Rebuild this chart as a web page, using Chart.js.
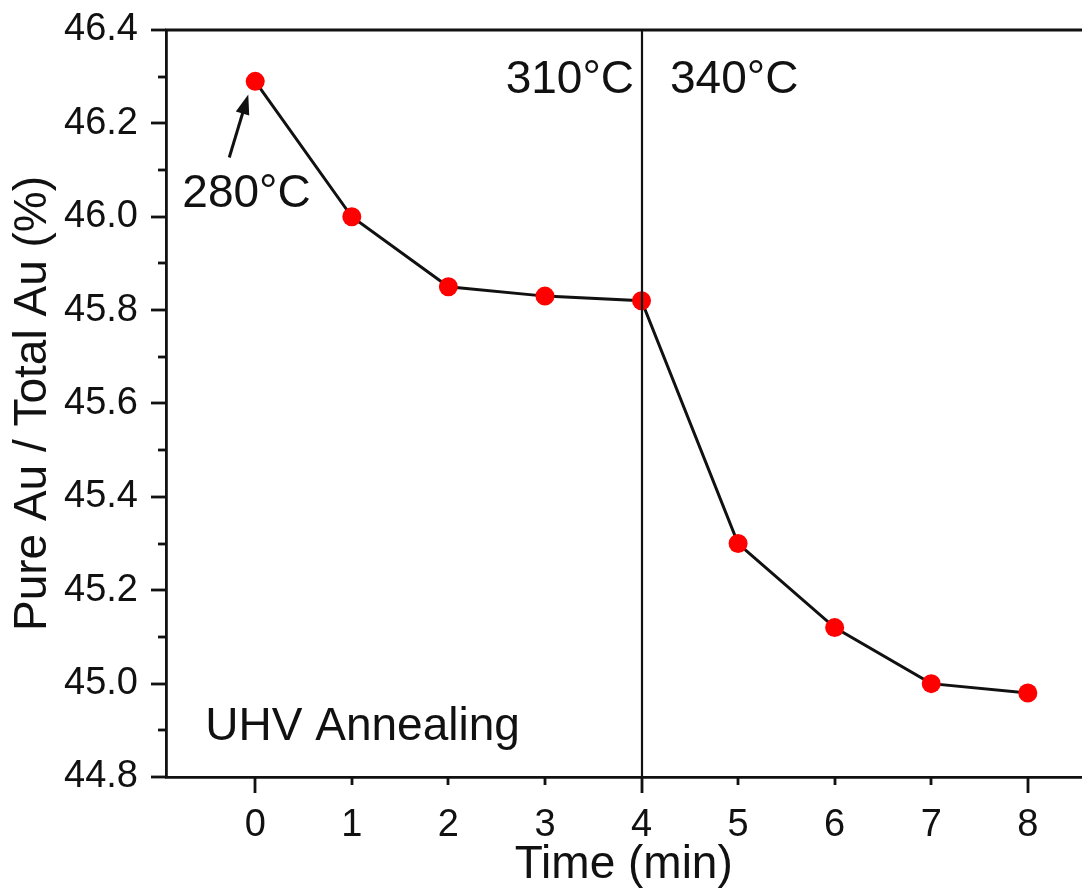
<!DOCTYPE html>
<html>
<head>
<meta charset="utf-8">
<script src="https://cdn.jsdelivr.net/npm/chart.js@4.4.0/dist/chart.umd.min.js"></script>
<style>
  html, body { margin:0; padding:0; background:#fff; overflow:hidden; }
  #wrap { width:1082px; height:888px; overflow:hidden; }
</style>
</head>
<body>
<div id="wrap"><canvas id="c" width="1091" height="888"></canvas></div>
<script>
const times = [0, 1, 2, 3, 4, 5, 6, 7, 8]
const ratio = [46.29, 46.00, 45.85, 45.83, 45.82, 45.30, 45.12, 45.00, 44.98]
const xTicks = [0, 1, 2, 3, 4, 5, 6, 7, 8]
const xMajor = [0, 4, 8]
const yTicks = [44.8, 45.0, 45.2, 45.4, 45.6, 45.8, 46.0, 46.2, 46.4]
const yMinor = [44.9, 45.1, 45.3, 45.5, 45.7, 45.9, 46.1, 46.3]
const stepTime = 4

const FONT = '"Liberation Sans", Arial, sans-serif'

// frame top, tick marks, step line, annotations
const extras = {
  id: 'extras',
  afterDraw(chart){
    const {ctx, chartArea:a} = chart
    const xs = chart.scales.x, ys = chart.scales.y
    ctx.save()
    ctx.strokeStyle = '#111'
    ctx.lineWidth = 2.8
    ctx.beginPath()
    ctx.moveTo(a.left-1, a.top); ctx.lineTo(chart.width, a.top)
    ctx.stroke()

    // x ticks (outward)
    for(const v of xTicks){
      const px = Math.round(xs.getPixelForValue(v))
      const len = xMajor.includes(v) ? 16 : 8
      ctx.beginPath(); ctx.moveTo(px, a.bottom); ctx.lineTo(px, a.bottom+len); ctx.stroke()
    }
    // y ticks (outward)
    for(const v of yTicks){
      const py = Math.round(ys.getPixelForValue(v))
      ctx.beginPath(); ctx.moveTo(a.left, py); ctx.lineTo(a.left-15, py); ctx.stroke()
    }
    for(const v of yMinor){
      const py = Math.round(ys.getPixelForValue(v))
      ctx.beginPath(); ctx.moveTo(a.left, py); ctx.lineTo(a.left-8, py); ctx.stroke()
    }

    // vertical line at temperature step
    const sx = Math.round(xs.getPixelForValue(stepTime))
    ctx.lineWidth = 2.2
    ctx.beginPath(); ctx.moveTo(sx, a.top); ctx.lineTo(sx, a.bottom); ctx.stroke()

    ctx.fillStyle = '#111'
    ctx.font = '46px ' + FONT
    ctx.textBaseline = 'alphabetic'
    ctx.textAlign = 'right'
    ctx.fillText('310°C', sx-8, ys.getPixelForValue(46.266))
    ctx.textAlign = 'left'
    ctx.fillText('340°C', sx+28, ys.getPixelForValue(46.266))
    ctx.fillText('280°C', xs.getPixelForValue(-0.755), ys.getPixelForValue(46.02))
    ctx.fillText('UHV Annealing', xs.getPixelForValue(-0.517), ys.getPixelForValue(44.879))

    // arrow to first point
    const x0 = xs.getPixelForValue(-0.269), y0 = ys.getPixelForValue(46.127)
    const x1 = xs.getPixelForValue(-0.072), y1 = ys.getPixelForValue(46.262)
    const ang = Math.atan2(y1-y0, x1-x0)
    ctx.lineWidth = 3
    ctx.beginPath(); ctx.moveTo(x0, y0); ctx.lineTo(x1-10*Math.cos(ang), y1-10*Math.sin(ang)); ctx.stroke()
    ctx.beginPath()
    ctx.moveTo(x1, y1)
    ctx.lineTo(x1-20*Math.cos(ang)+7*Math.sin(ang), y1-20*Math.sin(ang)-7*Math.cos(ang))
    ctx.lineTo(x1-20*Math.cos(ang)-7*Math.sin(ang), y1-20*Math.sin(ang)+7*Math.cos(ang))
    ctx.closePath(); ctx.fill()
    ctx.restore()
  }
}

new Chart(document.getElementById('c'), {
  type: 'scatter',
  data: {
    datasets: [{
      data: times.map((t,i)=>({x:t, y:ratio[i]})),
      showLine: true,
      borderColor: '#111',
      borderWidth: 3,
      pointRadius: 9.5,
      pointBackgroundColor: '#ff0000',
      pointBorderColor: '#ff0000',
      pointBorderWidth: 0,
      tension: 0
    }]
  },
  options: {
    responsive: false,
    animation: false,
    layout: { padding: { top: 30, right: 0, left: 0, bottom: 0 } },
    plugins: { legend: { display:false }, tooltip: { enabled:false } },
    scales: {
      x: {
        type: 'linear', min: -0.924, max: 8.556,
        afterBuildTicks: s => { s.ticks = xTicks.map(v=>({value:v})) },
        afterFit: s => { s.height = 111; s.paddingLeft = 0; s.paddingRight = 0 },
        grid: { display:false, drawTicks:false },
        border: { display:true, color:'#111', width:2.8 },
        ticks: { color:'#111', padding:26, font:{ family:FONT, size:38 }, callback: v => String(v) },
        title: { display:true, text:'Time (min)', color:'#111', font:{ family:FONT, size:46, lineHeight:1 }, padding:{ top:0, bottom:0 } }
      },
      y: {
        type: 'linear', min: 44.8, max: 46.4,
        afterBuildTicks: s => { s.ticks = yTicks.map(v=>({value:v})) },
        afterFit: s => { s.width = 166; s.paddingTop = 0; s.paddingBottom = 0 },
        grid: { display:false, drawTicks:false },
        border: { display:true, color:'#111', width:2.8 },
        ticks: { color:'#111', padding:28, font:{ family:FONT, size:38 }, callback: v => Number(v).toFixed(1) },
        title: { display:true, text:'Pure Au / Total Au (%)', color:'#111', font:{ family:FONT, size:46, lineHeight:1 }, padding:{ top:10, bottom:0 } }
      }
    }
  },
  plugins: [extras]
})
</script>
</body>
</html>
